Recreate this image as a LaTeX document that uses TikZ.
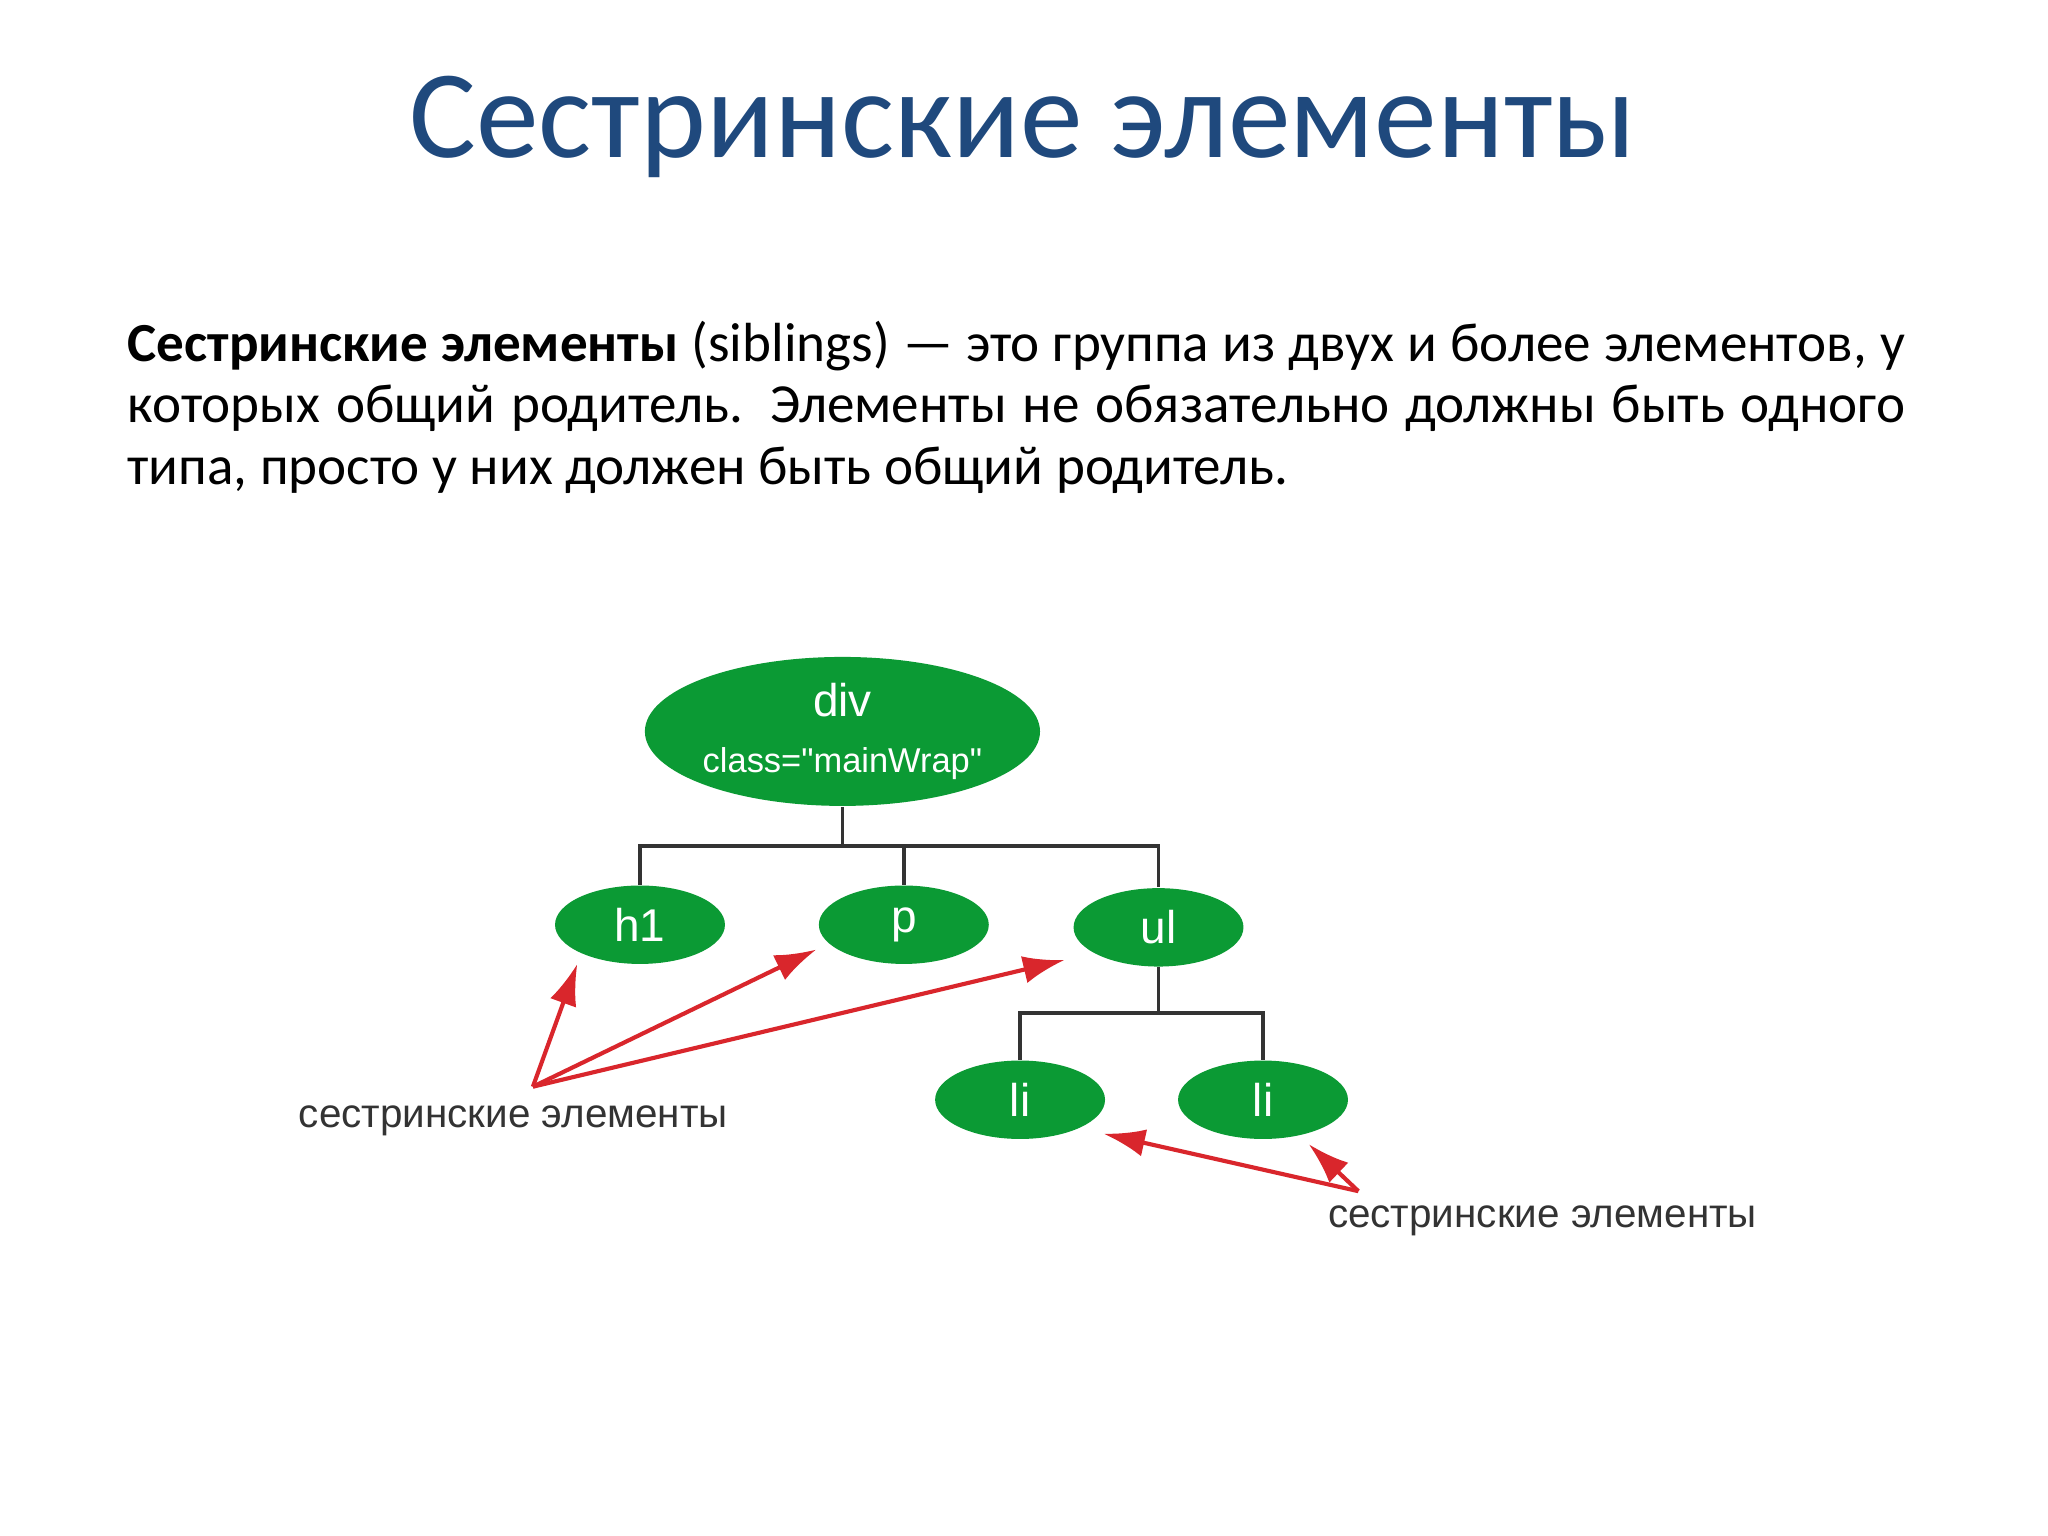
\documentclass[tikz,border=0pt]{standalone}
\usepackage{fontspec}
\setmainfont{Carlito}
\newfontfamily\arialf{Liberation Sans}
\usetikzlibrary{shapes.geometric,arrows.meta}
\definecolor{titleblue}{HTML}{1F497D}
\definecolor{nodegreen}{HTML}{0B9A34}
\definecolor{arrred}{HTML}{D9262C}
\tikzset{
  el/.style={ellipse,fill=nodegreen,draw=none,inner sep=0pt,text=white,font=\arialf\fontsize{10pt}{11pt}\selectfont},
  small/.style={el,minimum width=1.3cm,minimum height=0.6cm},
  tree/.style={draw=black!80,line width=0.8pt},
  redarr/.style={draw=arrred,line width=0.9pt,-{Latex[length=9pt,width=6pt]}},
  lbl/.style={font=\arialf\fontsize{8.8pt}{10pt}\selectfont,text=black!80}
}
\begin{document}
\begin{tikzpicture}[x=0.01cm,y=-0.01cm]
\useasboundingbox[fill=white] (0,0) rectangle (1568,1176);
\node[text=titleblue,font=\fontsize{27.3pt}{30pt}\selectfont] (title) at (783,97) {Сестринские элементы};
\node[anchor=north west,inner sep=0pt,text width=387pt,align=justify,font=\fontsize{12pt}{13.4pt}\selectfont] (body) at (97,245)
{\textbf{Сестринские элементы} (siblings) — это группа из двух и более элементов, у которых общий родитель. Элементы не обязательно должны быть одного типа, просто у них должен быть общий родитель.};
\node[el,minimum width=2.96cm,minimum height=1.14cm,align=center] (div) at (645,560) {div\\[1pt]{\fontsize{7.5pt}{8pt}\selectfont class="mainWrap"}};
\node[small] (h1) at (490,708) {h1};
\node[small] (p) at (692,708) {p};
\node[small] (ul) at (887,710) {ul};
\node[small] (li1) at (781,842) {li};
\node[small] (li2) at (967,842) {li};
\draw[tree] (div.south) -- ++(0,30) coordinate (j1);
\draw[tree] (h1.north) |- (j1) -| (ul.north);
\draw[tree] (p.north) -- (p.north |- j1);
\draw[tree] (ul.south) -- ++(0,35) coordinate (j2);
\draw[tree] (li1.north) |- (j2) -| (li2.north);
\node[lbl] (s1) at (393,858) {сестринские элементы};
\node[lbl] (s2) at (1181,935) {сестринские элементы};
\coordinate (a1) at (408,832);
\coordinate (a2) at (1040,912);
\draw[redarr] (a1) -- (442,738);
\draw[redarr] (a1) -- (625,727);
\draw[redarr] (a1) -- (815,735);
\draw[redarr] (a2) -- (845,868);
\draw[redarr] (a2) -- (1002,876);
\end{tikzpicture}
\end{document}
